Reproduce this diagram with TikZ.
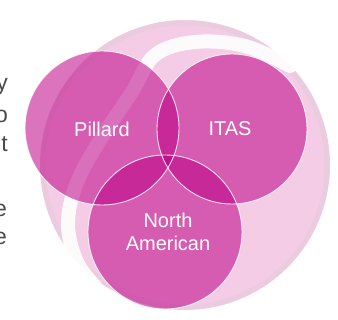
\documentclass[tikz,border=0pt]{standalone}
\usepackage{fontspec}
\setmainfont{Liberation Sans}
\usepackage{xcolor}
\definecolor{ball}{HTML}{F4CCE6}
\definecolor{ballrim}{HTML}{E4CCDA}
\definecolor{mag}{HTML}{BD0086}
\definecolor{txtgray}{HTML}{4A4A4A}
\usetikzlibrary{positioning}

\begin{document}
\begin{tikzpicture}[
    x=1pt, y=-1pt,
    set/.style={circle, fill=mag, fill opacity=0.55, inner sep=0pt},
    rim/.style={circle, draw=white, draw opacity=0.85, line width=0.9pt, inner sep=0pt},
    lbl/.style={text=white, font=\fontsize{20}{23}\selectfont, align=center},
    cut/.style={text=txtgray, font=\fontsize{23}{26}\selectfont, anchor=base east, inner sep=0pt}
    ]
    \useasboundingbox (0,0) rectangle (338,320);

    % glass ball behind the sets
    \fill[ball] (185,165) circle (145);
    \draw[ballrim, line width=5pt, opacity=0.6] (185,165) circle (142);
    \draw[white, line width=14pt, line cap=round, opacity=0.9]
        plot[smooth, tension=0.6] coordinates {(290,66) (245,46) (195,42) (155,55) (132,92) (100,140) (76,185) (68,225) (77,262) (95,286)};

    % the three sets
    \node[set, minimum size=154pt] (pillard) at (102,128) {};
    \node[set, minimum size=150pt] (itas) at (232,129) {};
    \node[set, minimum size=154pt] (northam) at (165,232) {};
    \node[rim, minimum size=154pt] at (pillard) {};
    \node[rim, minimum size=150pt] at (itas) {};
    \node[rim, minimum size=154pt] at (northam) {};

    \node[lbl] (pillardtxt) at (102,129) {Pillard};
    \node[lbl] (itastxt) at (230,129) {ITAS};
    \node[lbl] (northamtxt) at (168,232) {North\\American};

    % cut-off text at the left edge
    \node[cut] (cuta) at (8,91) {y};
    \node[cut] (cutb) at (8,123) {o};
    \node[cut] (cutc) at (8,152) {t};
    \node[cut] (cutd) at (7,217) {e};
    \node[cut] (cute) at (7,245) {e};
\end{tikzpicture}
\end{document}
